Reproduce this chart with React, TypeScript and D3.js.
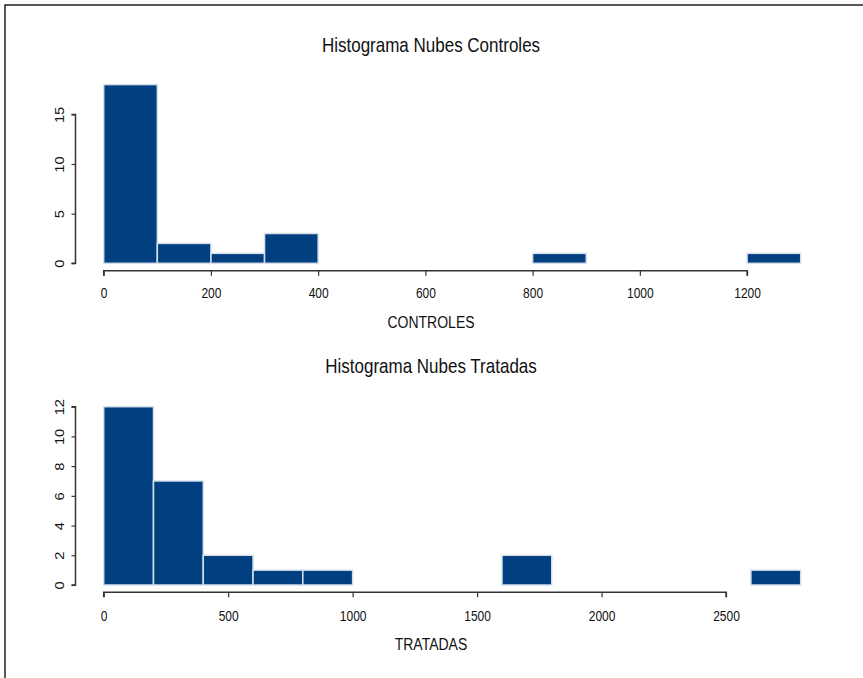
import React, { useEffect, useRef } from 'react';
import * as d3 from 'd3';

// bin edges and counts
const controlEdges = [0, 100, 200, 300, 400, 500, 600, 700, 800, 900, 1000, 1100, 1200, 1300];
const controlCounts = [18, 2, 1, 3, 0, 0, 0, 0, 1, 0, 0, 0, 1];
const controlXTicks = [0, 200, 400, 600, 800, 1000, 1200];
const controlYTicks = [0, 5, 10, 15];

const treatedEdges = [0, 200, 400, 600, 800, 1000, 1200, 1400, 1600, 1800, 2000, 2200, 2400, 2600, 2800];
const treatedCounts = [12, 7, 2, 1, 1, 0, 0, 0, 2, 0, 0, 0, 0, 1];
const treatedXTicks = [0, 500, 1000, 1500, 2000, 2500];
const treatedYTicks = [0, 2, 4, 6, 8, 10, 12];

const FILL = '#023f80';
const EDGE = '#d5dfec';
const AXIS = '#333333';
const FONT = 'Liberation Sans, Arial, sans-serif';
const STRETCH = 1.22; // the reference text is a bit taller than wide

type Panel = {
  title: string;
  xlab: string;
  edges: number[];
  counts: number[];
  xTicks: number[];
  yTicks: number[];
  yMax: number;
  top: number; // y pixel of yMax
  base: number; // y pixel of 0
  axisY: number;
  titleY: number;
  tickY: number;
  labY: number;
};

const panels: Panel[] = [
  {
    title: 'Histograma Nubes Controles',
    xlab: 'CONTROLES',
    edges: controlEdges,
    counts: controlCounts,
    xTicks: controlXTicks,
    yTicks: controlYTicks,
    yMax: 18,
    top: 84.6,
    base: 263.3,
    axisY: 270.7,
    titleY: 45,
    tickY: 293.5,
    labY: 322,
  },
  {
    title: 'Histograma Nubes Tratadas',
    xlab: 'TRATADAS',
    edges: treatedEdges,
    counts: treatedCounts,
    xTicks: treatedXTicks,
    yTicks: treatedYTicks,
    yMax: 12,
    top: 406.7,
    base: 585,
    axisY: 592.3,
    titleY: 366,
    tickY: 616.5,
    labY: 644,
  },
];

export default function App() {
  const svgRef = useRef<SVGSVGElement | null>(null);

  useEffect(() => {
    if (!svgRef.current) return;
    const svg = d3.select(svgRef.current);
    svg.selectAll('*').remove();

    svg
      .append('rect')
      .attr('x', 5)
      .attr('y', 5)
      .attr('width', 900)
      .attr('height', 700)
      .attr('fill', 'white')
      .attr('stroke', '#222')
      .attr('stroke-width', 1.5);

    const label = (
      g: d3.Selection<SVGGElement, unknown, null, undefined>,
      x: number,
      y: number,
      size: number,
      txt: string
    ) =>
      g
        .append('text')
        .attr('transform', `translate(${x},${y}) scale(1,${STRETCH})`)
        .attr('text-anchor', 'middle')
        .attr('dominant-baseline', 'central')
        .style('font-family', FONT)
        .style('font-size', `${size}px`)
        .attr('fill', '#111')
        .text(txt);

    panels.forEach((p) => {
      const x = d3
        .scaleLinear()
        .domain([0, p.edges[p.edges.length - 1]])
        .range([103.7, 800.7]);
      const y = d3.scaleLinear().domain([0, p.yMax]).range([p.base, p.top]);
      const g = svg.append('g');

      // bars
      g.selectAll('rect.bar')
        .data(p.counts)
        .enter()
        .append('rect')
        .attr('class', 'bar')
        .attr('x', (_, i) => x(p.edges[i]))
        .attr('width', (_, i) => x(p.edges[i + 1]) - x(p.edges[i]))
        .attr('y', (d) => y(d))
        .attr('height', (d) => y(0) - y(d))
        .attr('fill', FILL)
        .attr('stroke', EDGE)
        .attr('stroke-width', 1.5);

      // x axis
      const xAxis = g
        .append('g')
        .attr('transform', `translate(0,${p.axisY})`)
        .call(d3.axisBottom(x).tickValues(p.xTicks).tickSize(5).tickFormat(d3.format('d')));
      xAxis.select('.domain').attr('stroke', AXIS).attr('stroke-width', 1.5)
        .attr('d', `M${x(p.xTicks[0])},5V0H${x(p.xTicks[p.xTicks.length - 1])}V5`);
      xAxis.selectAll('.tick line').attr('stroke', AXIS).attr('stroke-width', 1.2);
      xAxis
        .selectAll('.tick text')
        .attr('y', null)
        .attr('dy', null)
        .attr('transform', `translate(0,${p.tickY - p.axisY}) scale(1,${STRETCH})`)
        .attr('dominant-baseline', 'central')
        .attr('fill', '#111')
        .style('font-family', FONT)
        .style('font-size', '12px');

      // y axis
      const yAxis = g
        .append('g')
        .attr('transform', 'translate(75.5,0)')
        .call(d3.axisLeft(y).tickValues(p.yTicks).tickSize(4));
      yAxis.select('.domain').attr('stroke', AXIS).attr('stroke-width', 1.5)
        .attr('d', `M-4,${y(p.yTicks[0])}H0V${y(p.yTicks[p.yTicks.length - 1])}H-4`);
      yAxis.selectAll('.tick line').attr('stroke', AXIS).attr('stroke-width', 1.2);
      yAxis
        .selectAll('.tick text')
        .attr('x', null)
        .attr('dy', null)
        .attr('transform', `translate(-16,0) scale(1,${STRETCH}) rotate(-90)`)
        .attr('text-anchor', 'middle')
        .attr('dominant-baseline', 'central')
        .attr('fill', '#111')
        .style('font-family', FONT)
        .style('font-size', '12px');

      // title and axis label
      label(g, 431, p.titleY, 17, p.title);
      label(g, 431, p.labY, 14, p.xlab);
    });
  }, []);

  return (
    <svg
      ref={svgRef}
      width={863}
      height={678}
      style={{ position: 'absolute', left: 0, top: 0, display: 'block' }}
    />
  );
}
